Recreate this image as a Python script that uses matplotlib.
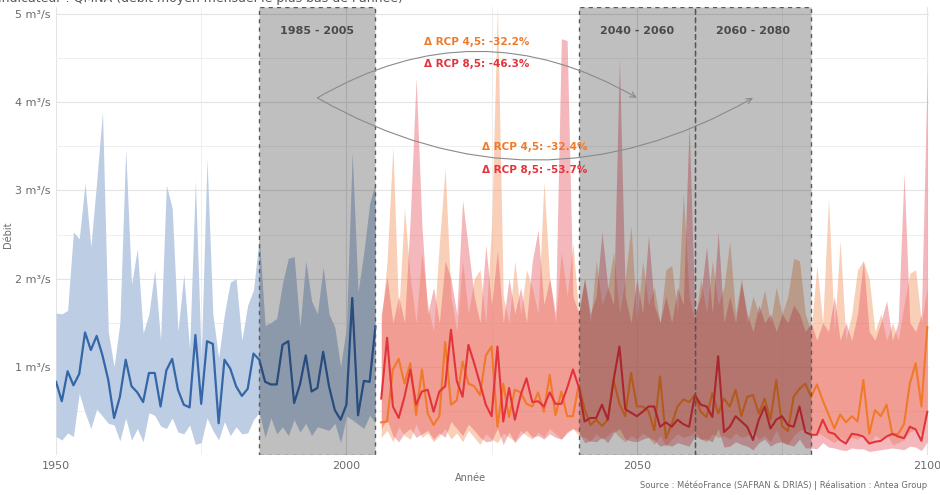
import numpy as np
import matplotlib
matplotlib.use('Agg')
import matplotlib.pyplot as plt
from matplotlib.patches import Rectangle

# historique 1950-2005
hist_years = np.arange(1950, 2006)
hist_mean = [0.83, 0.61, 0.95, 0.79, 0.92, 1.39, 1.19, 1.35, 1.13, 0.85,
             0.42, 0.66, 1.08, 0.78, 0.71, 0.60, 0.93, 0.93, 0.55, 0.96,
             1.09, 0.74, 0.57, 0.54, 1.36, 0.58, 1.29, 1.26, 0.36, 1.08,
             0.98, 0.78, 0.67, 0.75, 1.15, 1.08, 0.83, 0.80, 0.80, 1.25,
             1.29, 0.59, 0.80, 1.13, 0.72, 0.76, 1.17, 0.78, 0.51, 0.40,
             0.57, 1.78, 0.45, 0.84, 0.83, 1.46]
hist_low = [0.21, 0.17, 0.25, 0.21, 0.70, 0.48, 0.30, 0.52, 0.44, 0.36,
            0.34, 0.16, 0.42, 0.17, 0.30, 0.15, 0.48, 0.45, 0.33, 0.30,
            0.42, 0.26, 0.24, 0.34, 0.12, 0.14, 0.42, 0.28, 0.17, 0.38,
            0.22, 0.32, 0.24, 0.25, 0.40, 0.48, 0.20, 0.42, 0.24, 0.32,
            0.22, 0.40, 0.26, 0.36, 0.22, 0.32, 0.30, 0.28, 0.36, 0.14,
            0.44, 0.40, 0.35, 0.30, 0.45, 0.36]
hist_high = [1.61, 1.60, 1.64, 2.53, 2.45, 3.08, 2.36, 3.10, 3.89, 1.40,
             1.00, 1.50, 3.47, 1.93, 2.34, 1.38, 1.60, 2.10, 1.30, 3.06,
             2.80, 1.40, 2.05, 1.20, 3.11, 1.10, 3.36, 1.60, 1.10, 1.60,
             1.96, 2.00, 1.30, 1.70, 1.87, 2.47, 1.47, 1.50, 1.55, 1.95,
             2.23, 2.25, 1.45, 2.20, 1.75, 1.60, 2.13, 1.60, 1.45, 1.00,
             1.45, 3.43, 1.85, 2.30, 2.85, 3.10]

# projections 2006-2100
fut_years = np.arange(2006, 2101)
rcp45_mean = [0.37, 0.38, 0.97, 1.09, 0.81, 1.04, 0.45, 0.97, 0.47, 0.34,
              0.44, 1.28, 0.57, 0.62, 1.06, 0.81, 0.78, 0.68, 1.13, 1.23,
              0.32, 0.81, 0.43, 0.74, 0.71, 0.58, 0.55, 0.71, 0.49, 0.91,
              0.45, 0.72, 0.44, 0.44, 0.80, 0.52, 0.34, 0.40, 0.33, 0.40,
              0.85, 0.58, 0.44, 0.93, 0.55, 0.55, 0.50, 0.28, 0.89, 0.19,
              0.35, 0.55, 0.63, 0.60, 0.68, 0.49, 0.43, 0.70, 0.47, 0.64,
              0.55, 0.74, 0.44, 0.66, 0.68, 0.47, 0.64, 0.40, 0.85, 0.33,
              0.27, 0.66, 0.75, 0.81, 0.66, 0.80, 0.62, 0.46, 0.30, 0.46,
              0.37, 0.44, 0.38, 0.85, 0.24, 0.51, 0.44, 0.57, 0.23, 0.24,
              0.35, 0.81, 1.04, 0.55, 1.45]
rcp85_mean = [0.64, 1.33, 0.55, 0.42, 0.66, 0.97, 0.57, 0.72, 0.74, 0.49,
              0.72, 0.78, 1.42, 0.84, 0.66, 1.25, 1.04, 0.81, 0.57, 0.44,
              1.23, 0.38, 0.76, 0.40, 0.68, 0.87, 0.60, 0.61, 0.55, 0.71,
              0.58, 0.58, 0.76, 0.97, 0.77, 0.38, 0.42, 0.42, 0.57, 0.40,
              0.85, 1.23, 0.52, 0.48, 0.44, 0.49, 0.55, 0.55, 0.32, 0.37,
              0.32, 0.40, 0.35, 0.32, 0.68, 0.57, 0.55, 0.43, 1.12, 0.26,
              0.32, 0.44, 0.38, 0.32, 0.17, 0.40, 0.55, 0.30, 0.40, 0.44,
              0.34, 0.32, 0.55, 0.26, 0.23, 0.23, 0.40, 0.26, 0.24, 0.17,
              0.13, 0.24, 0.23, 0.21, 0.13, 0.15, 0.16, 0.21, 0.24, 0.21,
              0.19, 0.32, 0.29, 0.16, 0.49]
rcp45_low = [0.20, 0.28, 0.15, 0.32, 0.22, 0.18, 0.35, 0.20, 0.25, 0.15,
             0.22, 0.30, 0.18, 0.25, 0.15, 0.28, 0.20, 0.12, 0.24, 0.18,
             0.14, 0.25, 0.20, 0.16, 0.28, 0.22, 0.18, 0.26, 0.20, 0.30,
             0.24, 0.18, 0.27, 0.30, 0.22, 0.20, 0.16, 0.24, 0.18, 0.22,
             0.28, 0.20, 0.15, 0.22, 0.18, 0.25, 0.20, 0.12, 0.22, 0.10,
             0.18, 0.24, 0.20, 0.22, 0.26, 0.18, 0.15, 0.24, 0.20, 0.22,
             0.18, 0.25, 0.20, 0.22, 0.26, 0.18, 0.22, 0.15, 0.28, 0.14,
             0.12, 0.22, 0.28, 0.30, 0.24, 0.26, 0.22, 0.18, 0.14, 0.20,
             0.16, 0.20, 0.18, 0.24, 0.12, 0.22, 0.18, 0.24, 0.12, 0.14,
             0.18, 0.26, 0.30, 0.24, 0.45]
rcp45_high = [1.5, 2.2, 3.5, 1.6, 2.8, 2.0, 1.5, 2.3, 1.7, 1.4,
              2.4, 3.25, 1.8, 1.4, 2.2, 1.6, 2.0, 2.1, 1.5, 2.6,
              5.1, 1.8, 1.5, 2.2, 1.6, 2.1, 1.9, 1.6, 3.1, 2.0,
              1.5, 2.3, 1.8, 2.4, 1.6, 2.0, 1.5, 2.2, 1.7, 1.9,
              2.3, 1.6, 2.0, 2.6, 1.5, 2.2, 1.7, 1.9, 1.5, 2.1,
              2.15, 1.6, 2.97, 1.8, 1.5, 2.0, 1.6, 2.2, 1.7, 1.9,
              2.42, 1.6, 2.0, 1.5, 1.8, 1.6, 1.87, 1.5, 1.9, 1.6,
              1.8, 2.23, 2.2, 1.6, 1.4, 2.15, 1.5, 2.91, 1.4, 2.43,
              1.3, 1.6, 2.1, 2.2, 2.0, 1.4, 1.6, 1.3, 1.5, 1.3,
              1.7, 2.06, 2.1, 1.5, 1.9]
rcp85_low = [0.30, 0.40, 0.22, 0.15, 0.25, 0.30, 0.20, 0.24, 0.28, 0.18,
             0.25, 0.20, 0.38, 0.30, 0.22, 0.35, 0.28, 0.20, 0.15, 0.16,
             0.30, 0.12, 0.26, 0.14, 0.22, 0.28, 0.20, 0.22, 0.18, 0.24,
             0.20, 0.18, 0.25, 0.30, 0.26, 0.14, 0.16, 0.15, 0.20, 0.14,
             0.25, 0.30, 0.18, 0.16, 0.15, 0.18, 0.20, 0.17, 0.10, 0.12,
             0.10, 0.14, 0.12, 0.10, 0.22, 0.18, 0.18, 0.15, 0.30, 0.09,
             0.10, 0.15, 0.12, 0.10, 0.06, 0.14, 0.18, 0.10, 0.14, 0.15,
             0.12, 0.10, 0.18, 0.08, 0.08, 0.07, 0.14, 0.09, 0.08, 0.06,
             0.05, 0.08, 0.07, 0.07, 0.04, 0.05, 0.06, 0.07, 0.08, 0.07,
             0.06, 0.10, 0.09, 0.05, 0.15]
rcp85_high = [1.6, 2.02, 1.5, 1.8, 1.5, 2.7, 4.28, 2.6, 1.6, 1.9,
              1.5, 2.2, 2.0, 1.6, 2.89, 2.34, 1.8, 1.5, 2.38, 1.7,
              2.32, 1.5, 2.0, 1.6, 1.9, 1.5, 2.2, 2.55, 1.7, 2.0,
              1.6, 4.72, 4.7, 1.8, 1.6, 2.0, 1.6, 1.8, 2.53, 1.9,
              1.7, 4.5, 1.8, 1.5, 2.0, 1.6, 2.49, 1.7, 1.5, 1.8,
              1.5, 1.9, 1.7, 3.76, 1.6, 1.8, 2.36, 1.6, 2.53, 1.5,
              1.8, 1.5, 1.96, 1.6, 1.4, 1.7, 1.5, 1.6, 1.4, 1.6,
              1.5, 1.7, 1.6, 1.4, 1.5, 1.3, 1.5, 1.4, 1.8, 1.3,
              1.5, 1.3, 1.6, 2.21, 1.4, 1.3, 1.5, 1.75, 1.3, 1.5,
              3.2, 1.5, 1.4, 1.6, 4.38]

periods = [(1985, 2005), (2040, 2060), (2060, 2080)]
period_labels = ['1985 - 2005', '2040 - 2060', '2060 - 2080']

ORANGE = '#f07a2a'
RED = '#e3343c'
GREY_TXT = '#6b6b6b'

fig = plt.figure(figsize=(9.4, 4.95), dpi=100)
ax = fig.add_axes([56 / 940, 40 / 495, 873 / 940, 448 / 495])
YMAX = 5.08

# bandes
ax.fill_between(hist_years, hist_low, hist_high, color='#bccde4', lw=0, zorder=1)
ax.fill_between(fut_years, rcp45_low, rcp45_high, color='#f4a070', alpha=0.5, lw=0, zorder=1)
ax.fill_between(fut_years, rcp85_low, rcp85_high, color='#e8606a', alpha=0.45, lw=0, zorder=1)

# moyennes
ax.plot(hist_years, hist_mean, color='#3566a8', lw=1.6, zorder=2)
ax.plot(fut_years, rcp45_mean, color=ORANGE, lw=1.5, zorder=2)
ax.plot(fut_years, rcp85_mean, color=RED, lw=1.5, zorder=2)

# périodes de référence / futures
for (a, b), lab in zip(periods, period_labels):
    ax.add_patch(Rectangle((a, 0), b - a, YMAX, facecolor=(0, 0, 0, 0.25),
                           edgecolor='#5a5a5a', linestyle=(0, (3, 3)), lw=1, zorder=3))
    ax.text((a + b) / 2, 4.81, lab, ha='center', va='center', fontsize=8,
            fontweight='bold', color='#4a4a4a', zorder=5)

# flèches
arrow = dict(arrowstyle='->', color='#8a8a8a', lw=0.8, shrinkA=0, shrinkB=0)
ax.annotate('', xy=(2050, 4.05), xytext=(1995, 4.05),
            arrowprops=dict(arrow, connectionstyle='arc3,rad=-0.29'), zorder=4)
ax.annotate('', xy=(2070, 4.05), xytext=(1995, 4.05),
            arrowprops=dict(arrow, connectionstyle='arc3,rad=0.285'), zorder=4)

ax.text(2022.5, 4.68, 'Δ RCP 4,5: -32.2%', ha='center', va='center', fontsize=7.5,
        fontweight='bold', color=ORANGE, zorder=5)
ax.text(2022.5, 4.43, 'Δ RCP 8,5: -46.3%', ha='center', va='center', fontsize=7.5,
        fontweight='bold', color=RED, zorder=5)
ax.text(2032.4, 3.49, 'Δ RCP 4,5: -32.4%', ha='center', va='center', fontsize=7.5,
        fontweight='bold', color=ORANGE, zorder=5)
ax.text(2032.4, 3.23, 'Δ RCP 8,5: -53.7%', ha='center', va='center', fontsize=7.5,
        fontweight='bold', color=RED, zorder=5)

# axes
ax.set_xlim(1950, 2100.3)
ax.set_ylim(0, YMAX)
ax.set_xticks([1950, 2000, 2050, 2100])
ax.set_xticks([1975, 2025, 2075], minor=True)
ax.set_yticks([1, 2, 3, 4, 5])
ax.set_yticklabels([f'{v} m³/s' for v in [1, 2, 3, 4, 5]])
ax.set_yticks([0.5, 1.5, 2.5, 3.5, 4.5], minor=True)
ax.grid(which='major', color='#e4e4e4', lw=0.8)
ax.grid(which='minor', color='#efefef', lw=0.7)
ax.set_axisbelow(True)
ax.tick_params(which='both', length=0, labelsize=8, labelcolor=GREY_TXT, pad=4)
for s in ax.spines.values():
    s.set_visible(False)

fig.text(0.5, 0.034, 'Année', ha='center', va='center', fontsize=7, color=GREY_TXT)
fig.text(0.009, 0.525, 'Débit', ha='center', va='center', rotation=90, fontsize=7, color=GREY_TXT)
fig.text(0.986, 0.01, 'Source : MétéoFrance (SAFRAN & DRIAS) | Réalisation : Antea Group',
         ha='right', va='bottom', fontsize=6, color=GREY_TXT)
# titre rogné en haut, comme sur l'original
fig.text(-0.002, 1 - 2 / 495, "Indicateur : QMNA (débit moyen mensuel le plus bas de l'année)",
         ha='left', va='baseline', fontsize=9, color='#555555')

fig.savefig('out.png', dpi=100)
